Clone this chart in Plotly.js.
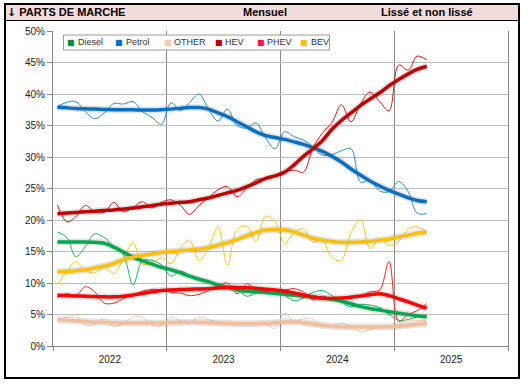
<!DOCTYPE html>
<html>
<head>
<meta charset="utf-8">
<script src="https://cdn.plot.ly/plotly-3.0.1.min.js"></script>
<style>
  body { margin:0; background:#fff; }
  #frame { position:absolute; left:4px; top:3px; width:516px; height:376px; border:2px solid #000; box-sizing:border-box; }
  #hdr { position:absolute; left:0; top:0; right:0; height:15px; background:#F2DCDB; border-bottom:1px solid #000; }
  .h { position:absolute; top:1px; font-family:"Liberation Sans", Arial, sans-serif; font-weight:bold; font-size:11px; color:#000; white-space:nowrap; }
  .arr { font-family:"DejaVu Sans", sans-serif; font-weight:bold; font-size:11px; }
  #chart { position:absolute; left:0; top:0; width:530px; height:384px; }
</style>
</head>
<body>
<div id="frame"><div id="hdr">
  <span class="h" style="left:1px"><span class="arr">↓</span> PARTS DE MARCHE</span>
  <span class="h" style="left:237px">Mensuel</span>
  <span class="h" style="left:375px">Lissé et non lissé</span>
</div></div>
<div id="chart"></div>
<script>
const months = ['2022-01-15','2022-02-15','2022-03-15','2022-04-15','2022-05-15','2022-06-15','2022-07-15','2022-08-15','2022-09-15','2022-10-15','2022-11-15','2022-12-15',
'2023-01-15','2023-02-15','2023-03-15','2023-04-15','2023-05-15','2023-06-15','2023-07-15','2023-08-15','2023-09-15','2023-10-15','2023-11-15','2023-12-15',
'2024-01-15','2024-02-15','2024-03-15','2024-04-15','2024-05-15','2024-06-15','2024-07-15','2024-08-15','2024-09-15','2024-10-15','2024-11-15','2024-12-15',
'2025-01-15','2025-02-15','2025-03-15','2025-04-15'];

const seriesNames = ['Diesel','Petrol','OTHER','HEV','PHEV','BEV'];

// monthly shares (%), non-smoothed
const dieselRaw = [18.1,17.2,14.2,15.8,17.8,17.2,15.8,14.5,9.7,13.5,13.6,12.9,11.1,11.9,11.2,10.7,10.2,9.6,9.4,9.0,7.9,8.4,8.6,8.8,8.0,7.2,7.6,8.5,8.8,8.0,7.0,6.2,6.6,6.5,6.1,5.0,4.1,4.2,4.6,4.8];
const petrolRaw = [38.0,38.7,38.8,37.2,36.1,37.0,38.5,38.4,38.8,37.2,36.3,35.2,38.6,37.4,38.6,40.0,37.6,35.7,37.6,35.0,34.6,35.4,33.0,31.3,34.0,33.2,32.7,31.6,30.3,30.4,31.0,31.3,26.0,26.3,24.6,24.5,26.1,24.5,21.1,21.0];
const otherRaw  = [4.0,4.6,4.9,3.3,3.4,4.35,3.1,3.6,4.6,4.6,3.3,3.2,4.6,4.0,3.6,4.6,4.2,3.8,3.7,3.6,3.5,3.7,3.5,2.8,5.2,3.8,4.4,4.3,3.2,3.2,3.6,3.2,2.2,2.6,3.0,3.0,3.4,4.0,4.1,3.9];
const hevRaw    = [22.4,19.7,20.5,22.3,21.3,21.2,22.8,21.3,22.0,22.9,21.9,22.8,23.2,22.3,20.9,22.3,23.5,24.8,25.3,23.7,25.0,26.4,26.6,26.9,27.6,27.9,27.6,31.5,33.8,35.5,38.3,35.6,38.5,40.3,38.8,37.3,44.6,43.8,46.0,45.4];
const phevRaw   = [7.7,8.3,8.0,9.4,8.6,6.8,6.8,7.5,8.1,8.7,9.0,8.9,8.5,8.4,8.0,8.2,8.8,9.6,10.0,8.3,9.9,9.0,8.8,9.0,8.9,9.1,8.6,7.3,7.9,7.5,7.6,7.9,8.0,8.6,8.9,13.4,3.9,5.0,5.6,6.7];
const bevRaw    = [9.8,11.8,13.4,12.0,11.6,12.5,11.5,13.8,16.4,13.0,13.2,14.0,13.1,15.6,16.8,13.6,15.5,18.9,12.8,18.5,19.0,16.6,20.6,19.8,16.3,18.0,18.6,16.5,16.8,14.0,13.6,18.0,20.0,15.5,17.0,16.0,16.6,18.6,18.9,18.1];

// smoothed shares (%)
const dieselSmooth = [16.5,16.5,16.5,16.5,16.45,16.3,15.7,14.9,14.1,13.5,13.0,12.5,12.1,11.6,11.1,10.6,10.2,9.7,9.3,8.9,8.7,8.6,8.5,8.35,8.2,8.05,7.9,7.75,7.6,7.4,7.1,6.7,6.25,5.95,5.7,5.45,5.2,5.0,4.8,4.6];
const petrolSmooth = [37.9,37.8,37.7,37.65,37.6,37.55,37.5,37.5,37.5,37.45,37.45,37.5,37.6,37.75,37.85,37.85,37.6,37.0,36.4,35.6,34.8,34.0,33.4,33.1,32.8,32.4,32.0,31.5,30.9,30.1,29.2,28.1,27.1,26.2,25.4,24.7,24.1,23.5,23.1,22.9];
const otherSmooth  = [4.15,4.1,4.0,3.9,3.8,3.75,3.7,3.65,3.65,3.65,3.65,3.65,3.7,3.75,3.75,3.75,3.7,3.65,3.6,3.55,3.55,3.55,3.6,3.7,3.8,3.8,3.7,3.5,3.3,3.15,3.05,3.0,3.0,3.0,3.0,3.05,3.15,3.3,3.45,3.55];
const hevSmooth    = [21.0,21.1,21.2,21.3,21.4,21.5,21.6,21.75,21.9,22.1,22.3,22.5,22.65,22.8,22.9,23.2,23.5,23.9,24.3,24.7,25.3,25.9,26.6,27.0,27.6,28.8,30.1,31.3,32.6,34.4,35.8,37.0,38.2,39.2,40.2,41.3,42.3,43.2,43.9,44.4];
const phevSmooth   = [8.05,8.0,7.95,7.9,7.85,7.8,7.8,7.9,8.1,8.35,8.6,8.8,8.9,8.95,9.0,9.05,9.1,9.2,9.3,9.3,9.25,9.15,9.0,8.9,8.7,8.4,8.1,7.8,7.6,7.55,7.6,7.75,7.95,8.15,8.3,8.0,7.5,7.0,6.5,6.0];
const bevSmooth    = [11.8,11.85,11.95,12.1,12.4,12.7,13.1,13.7,14.1,14.4,14.6,14.85,15.0,15.1,15.25,15.4,15.6,16.0,16.4,16.9,17.5,18.0,18.4,18.5,18.45,18.1,17.6,17.1,16.8,16.6,16.45,16.45,16.5,16.6,16.8,17.0,17.3,17.6,17.9,18.1];

const rawSeries = [dieselRaw, petrolRaw, otherRaw, hevRaw, phevRaw, bevRaw];
const smoothSeries = [dieselSmooth, petrolSmooth, otherSmooth, hevSmooth, phevSmooth, bevSmooth];

const thickColors = ['#00A84F','#0A6FBF','#F4BE9A','#C00000','#FF0000','#FFC000'];
const thinColors  = ['#1DB35C','#2A88D4','#F8CBAD','#D01818','#FF2020','#FFC61A'];
const legendColors = ['#128A35','#0A6FBF','#F8CBAD','#C00000','#FF1447','#FFC000'];

const traces = [];
seriesNames.forEach((n, k) => {
  traces.push({x: months, y: rawSeries[k], type:'scatter', mode:'lines', name:n+' (mensuel)',
    line:{color: thinColors[k], width:1, shape:'spline', smoothing:1}, showlegend:false, hoverinfo:'skip'});
});
seriesNames.forEach((n, k) => {
  traces.push({x: months, y: smoothSeries[k], type:'scatter', mode:'lines', name:n+' ombre',
    line:{color:'rgba(90,90,90,0.16)', width:7, shape:'spline', smoothing:1}, showlegend:false, hoverinfo:'skip'});
  traces.push({x: months, y: smoothSeries[k], type:'scatter', mode:'lines', name:n,
    line:{color: thickColors[k], width:3.5, shape:'spline', smoothing:1}, showlegend:false, hoverinfo:'skip'});
});

// plot area in page pixels: x 53..508, y 31..346
const L = 53, R = 508, T = 31, B = 346;
const px = v => (v - L) / (R - L);
const py = v => (B - v) / (B - T);

const legSquareX = [71, 119, 168, 219, 261, 304];
const legTextX   = [76, 124, 172, 223, 265, 309];
const annotations = [];
seriesNames.forEach((n, k) => {
  annotations.push({xref:'paper', yref:'paper', x:px(legSquareX[k]), y:py(42.5), xanchor:'center', yanchor:'middle',
    text:'■', showarrow:false, font:{family:'DejaVu Sans', size:8, color:legendColors[k]}});
  annotations.push({xref:'paper', yref:'paper', x:px(legTextX[k]), y:py(42.5), xanchor:'left', yanchor:'middle',
    text:n, showarrow:false, font:{family:'Liberation Sans, Arial, sans-serif', size:9, color:'#333'}});
});

const layout = {
  width:530, height:384,
  margin:{l:L, r:530-R, t:T, b:384-B, pad:0},
  paper_bgcolor:'rgba(0,0,0,0)', plot_bgcolor:'rgba(0,0,0,0)',
  showlegend:false,
  xaxis:{type:'date', range:['2022-01-01','2026-01-01'], dtick:'M12', tick0:'2022-01-01',
    ticklabelmode:'period', tickformat:'%Y', ticks:'outside', ticklen:4, tickcolor:'#888',
    showgrid:true, gridcolor:'#8a8a8a', gridwidth:1, showline:true, linecolor:'#888', linewidth:1,
    tickfont:{family:'Liberation Sans, Arial, sans-serif', size:10, color:'#222'}, fixedrange:true},
  yaxis:{range:[0,50], dtick:5, ticksuffix:'%', ticks:'outside', ticklen:5, tickcolor:'#888',
    showgrid:true, gridcolor:'#bdbdbd', gridwidth:1, showline:true, linecolor:'#888', linewidth:1, mirror:true,
    zeroline:false, tickfont:{family:'Liberation Sans, Arial, sans-serif', size:10, color:'#222'}, fixedrange:true},
  shapes:[{type:'rect', xref:'paper', yref:'paper', x0:px(63.5), x1:px(329.5), y0:py(50), y1:py(35),
    fillcolor:'#fff', line:{color:'#9a9a9a', width:1}, layer:'above'}],
  annotations: annotations
};

Plotly.newPlot('chart', traces, layout, {staticPlot:true, displayModeBar:false});
</script>
</body>
</html>
